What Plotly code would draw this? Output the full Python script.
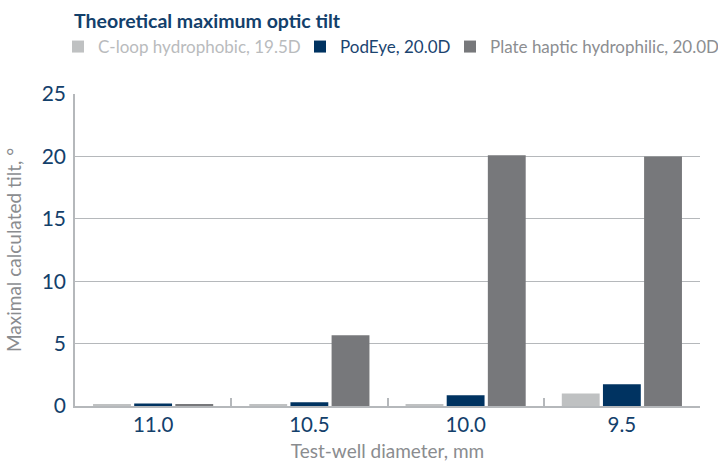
import plotly.graph_objects as go

categories = ["11.0", "10.5", "10.0", "9.5"]
c_loop = [0.15, 0.15, 0.1, 1.0]
podeye = [0.2, 0.3, 0.87, 1.75]
plate = [0.15, 5.66, 20.1, 20.0]

series_names = ["C-loop hydrophobic, 19.5D", "PodEye, 20.0D", "Plate haptic hydrophilic, 20.0D"]
colors = ["#bfc1c2", "#003361", "#77787b"]
text_colors = ["#b9bbbd", "#1b4470", "#8c8e91"]
legend_ids = ["legend2", "legend3", "legend4"]
legend_marker_x = [78, 320, 470]

FONT = "Lato"
NAVY = "#13406b"
GRID = "#b5b8bb"

fig = go.Figure()
for name, vals, col, tcol, lg in zip(series_names, [c_loop, podeye, plate], colors, text_colors, legend_ids):
    fig.add_trace(go.Bar(
        x=categories, y=vals, name=f"<span style='color:{tcol}'>{name}</span>",
        marker=dict(color=col, line=dict(width=0)), legend=lg, showlegend=True,
    ))

legend_common = dict(orientation="h", xanchor="left", yanchor="middle",
                     xref="container", yref="container",
                     font=dict(size=17, family=FONT), itemclick=False,
                     bgcolor="rgba(0,0,0,0)")
legends = {}
for lg, mx in zip(legend_ids, legend_marker_x):
    legends[lg] = dict(legend_common, x=(mx - 20) / 718, y=1 - 47 / 462)

fig.update_layout(
    width=718, height=462, showlegend=True,
    barmode="group", bargap=0.21, bargroupgap=0.08,
    plot_bgcolor="white", paper_bgcolor="white",
    margin=dict(l=75, r=18, t=94, b=56, autoexpand=False),
    font=dict(family=FONT, color=NAVY),
    title=dict(text="<b>Theoretical maximum optic tilt</b>", xref="container", x=74 / 718,
               xanchor="left", yref="container", y=1 - 21 / 462, yanchor="middle",
               font=dict(size=19.5, color=NAVY, family=FONT)),
    **legends,
    xaxis=dict(showline=True, linecolor=GRID, linewidth=1.5, automargin=False,
               ticks="inside", tickson="boundaries", ticklen=8, tickcolor=GRID, tickwidth=1.5,
               tickfont=dict(size=20.5, color=NAVY),
               title=dict(text="Test-well diameter, mm", font=dict(size=19, color="#8a8c8f"))),
    yaxis=dict(range=[0, 25], dtick=5, showgrid=True, gridcolor=GRID, gridwidth=1,
               zeroline=False, automargin=False,
               showline=True, linecolor=GRID, linewidth=1.5,
               ticks="", ticklabelstandoff=3, tickfont=dict(size=21, color=NAVY),
               title=dict(text="Maximal calculated tilt, °", font=dict(size=19, color="#8a8c8f"))),
)

fig.write_html("out.html", config={"displayModeBar": False},
               post_script="document.body.style.margin='0';")
